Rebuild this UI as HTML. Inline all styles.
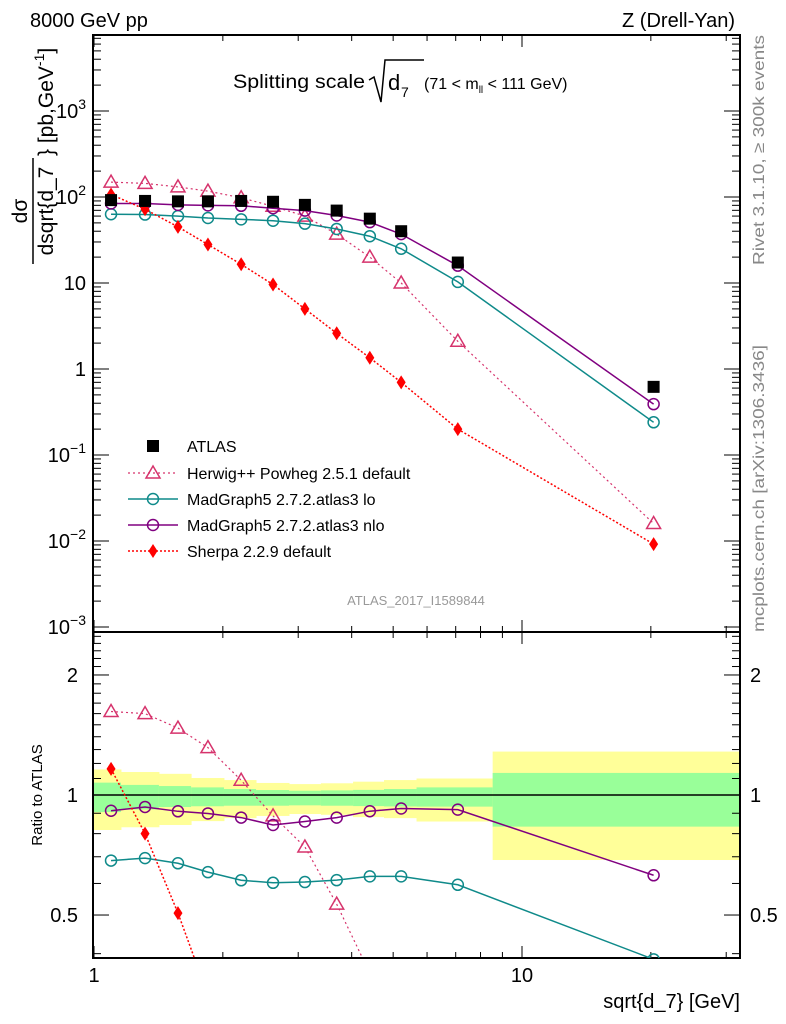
<!DOCTYPE html>
<html><head><meta charset="utf-8"><style>
html,body{margin:0;background:#fff;overflow:hidden;width:786px;height:1024px;}
svg{display:block;font-family:"Liberation Sans",sans-serif;overflow:hidden;}
</style></head><body>
<svg id="c" width="786" height="1024" viewBox="0 0 786 1024"></svg>
<script>
const xs=[1.096,1.316,1.571,1.846,2.207,2.62,3.11,3.69,4.41,5.22,7.08,20.3];
const atlas=[92,90,89,89,90,88,81,69.5,56,40,17.3,0.62];
const herwig=[149,144,131,117,98,78,60,37,20,10,2.1,0.016];
const mglo=[63,62.5,60,57,55,53,49,42.5,35,25,10.3,0.24];
const mgnlo=[84,84,81,80,79,74,69.5,61,51,37,15.9,0.39];
const sherpa=[107,72,45,28,16.5,9.6,5.0,2.6,1.35,0.7,0.2,0.0092];
const binEdges=[1.0,1.156,1.418,1.686,2.012,2.391,2.855,3.39,4.03,4.76,5.67,8.54,32.3];
const yelHi=[1.159,1.142,1.13,1.103,1.09,1.072,1.065,1.07,1.08,1.09,1.1,1.285];
const yelLo=[0.817,0.83,0.841,0.86,0.875,0.886,0.896,0.892,0.88,0.875,0.858,0.687];
const grnHi=[1.074,1.06,1.053,1.045,1.035,1.029,1.025,1.027,1.03,1.035,1.045,1.136];
const grnLo=[0.906,0.92,0.933,0.937,0.94,0.94,0.942,0.94,0.938,0.936,0.935,0.833];
const yTicks=["10^-3","10^-2","10^-1","1","10","10^2","10^3"];
const yTickVals=[1e-3,1e-2,1e-1,1,10,100,1000];
const rTickVals=[0.5,1,2];

const L=93,R=740,T=35,MB=632,RB=958;
const X=v=>94+428*Math.log10(v);
const Y=v=>369-86*Math.log10(v);
const RY=v=>795-398.7*Math.log10(v);
const svg=document.getElementById('c');
const NS='http://www.w3.org/2000/svg';
function el(tag,at,parent){const e=document.createElementNS(NS,tag);for(const k in at)e.setAttribute(k,at[k]);(parent||svg).appendChild(e);return e;}
function txt(s,at,parent){const e=el('text',at,parent);e.textContent=s;return e;}

const defs=el('defs',{});
const c1=el('clipPath',{id:'cm'},defs);el('rect',{x:L,y:T,width:R-L,height:MB-T},c1);
const c2=el('clipPath',{id:'cr'},defs);el('rect',{x:L,y:MB,width:R-L,height:RB-MB},c2);

const bands=el('g',{'clip-path':'url(#cr)'});


for(let i=0;i<yelHi.length;i++){
  const x0=X(binEdges[i]),x1=X(binEdges[i+1]);
  const r1=el('rect',{x:x0,y:RY(yelHi[i]),width:x1-x0+0.5,height:RY(yelLo[i])-RY(yelHi[i]),fill:'#ffff99'},bands);
  
  
  const r2=el('rect',{x:x0,y:RY(grnHi[i]),width:x1-x0+0.5,height:RY(grnLo[i])-RY(grnHi[i]),fill:'#99ff99'},bands);
  
  
}
el('line',{x1:L,x2:R,y1:RY(1),y2:RY(1),stroke:'#000','stroke-width':1.5});

el('rect',{x:L,y:T,width:R-L,height:MB-T,fill:'none',stroke:'#000','stroke-width':2});
el('rect',{x:L,y:MB,width:R-L,height:RB-MB,fill:'none',stroke:'#000','stroke-width':2});

function xTicks(y0,y1){
  for(let d=0;d<2;d++)for(let m=1;m<10;m++){const v=m*Math.pow(10,d);if(v>32.3)continue;
    const x=X(v);const len=m==1?12:6;
    el('line',{x1:x,x2:x,y1:y1,y2:y1-len,stroke:'#000','stroke-width':1});
    el('line',{x1:x,x2:x,y1:y0,y2:y0+len,stroke:'#000','stroke-width':1});}
}
xTicks(T,MB);xTicks(MB,RB);
txt('1',{x:X(1),y:982,'font-size':20,'text-anchor':'middle'});
txt('10',{x:X(10),y:982,'font-size':20,'text-anchor':'middle'});
txt('sqrt{d_7} [GeV]',{x:740,y:1008,'font-size':20,'text-anchor':'end'});

for(let d=-3;d<=3;d++)for(let m=1;m<10;m++){const v=m*Math.pow(10,d);const y=Y(v);if(y<T||y>MB)continue;
  const len=m==1?16:8;el('line',{x1:L,x2:L+len,y1:y,y2:y,stroke:'#000'});el('line',{x1:R,x2:R-len,y1:y,y2:y,stroke:'#000'});}
const yl=el('g',{});
yTicks.forEach((s,i)=>{const y=Y(yTickVals[i])+7;
  if(s.indexOf('^')>0){const p=s.split('^');const t=txt('',{x:86,y:y,'font-size':20,'text-anchor':'end'},yl);
    const a=el('tspan',{},t);a.textContent=p[0];const b=el('tspan',{dy:-9,'font-size':14},t);b.textContent=p[1].replace('-','−');}
  else txt(s,{x:86,y:y,'font-size':20,'text-anchor':'end'},yl);});
for(let v=0.4;v<=2.5001;v+=0.1){const y=RY(v);if(y<MB||y>RB)continue;const maj=[0.5,1,2].some(q=>Math.abs(q-v)<1e-6);
  const len=maj?16:8;el('line',{x1:L,x2:L+len,y1:y,y2:y,stroke:'#000'});el('line',{x1:R,x2:R-len,y1:y,y2:y,stroke:'#000'});}
rTickVals.forEach(v=>{txt(String(v),{x:78,y:RY(v)+7,'font-size':20,'text-anchor':'end'});txt(String(v),{x:750,y:RY(v)+7,'font-size':20});});

txt('8000 GeV pp',{x:30,y:27,'font-size':20});
txt('Z (Drell-Yan)',{x:735,y:27,'font-size':20,'text-anchor':'end'});
const tg=el('g',{});
txt('Splitting scale',{x:233,y:88,'font-size':19,textLength:132,lengthAdjust:'spacingAndGlyphs'},tg);
el('polyline',{points:'369,80 374,77 381,102 385,60 424,60',fill:'none',stroke:'#000','stroke-width':1.5},tg);
txt('d',{x:388,y:90,'font-size':22},tg);
txt('7',{x:401,y:97,'font-size':14},tg);
const pt=txt('',{x:424,y:89,'font-size':16},tg);
const p1=el('tspan',{},pt);p1.textContent='(71 < m';
const p2=el('tspan',{dy:4,'font-size':10},pt);p2.textContent='ll';
const p3=el('tspan',{dy:-4},pt);p3.textContent=' < 111 GeV)';

txt('ATLAS_2017_I1589844',{x:416,y:605,'font-size':13,fill:'#999','text-anchor':'middle'});
txt('Rivet 3.1.10, ≥ 300k events',{x:0,y:0,'font-size':16,fill:'#888',textLength:230,lengthAdjust:'spacingAndGlyphs',transform:'translate(764,265) rotate(-90)'});
txt('mcplots.cern.ch [arXiv:1306.3436]',{x:0,y:0,'font-size':16,fill:'#888',textLength:287,lengthAdjust:'spacingAndGlyphs',transform:'translate(764,632) rotate(-90)'});
txt('Ratio to ATLAS',{x:0,y:0,'font-size':15,'text-anchor':'middle',transform:'translate(42,795) rotate(-90)'});
const yt=el('g',{transform:'translate(33,211) rotate(-90)'});
txt('dσ',{x:0,y:-6,'font-size':21,'text-anchor':'middle'},yt);
el('line',{x1:-53,x2:53,y1:0,y2:0,stroke:'#000','stroke-width':1.5},yt);
txt('dsqrt{d_7',{x:0,y:20,'font-size':21,'text-anchor':'middle'},yt);
const ut=txt('',{x:55,y:20,'font-size':21},yt);const u1=el('tspan',{},ut);u1.textContent='} [pb,GeV';const u2=el('tspan',{dy:-9,'font-size':14},ut);u2.textContent='-1';const u3=el('tspan',{dy:9},ut);u3.textContent=']';

function marker(g,type,x,y,col){
  if(type==='sq')el('rect',{x:x-6,y:y-6,width:12,height:12,fill:'#000'},g);
  else if(type==='tri')el('polygon',{points:`${x},${y-7} ${x-7},${y+5} ${x+7},${y+5}`,fill:'none',stroke:col,'stroke-width':1.5},g);
  else if(type==='circ')el('circle',{cx:x,cy:y,r:5.5,fill:'none',stroke:col,'stroke-width':1.5},g);
  else if(type==='dia')el('polygon',{points:`${x},${y-7} ${x-4.5},${y} ${x},${y+7} ${x+4.5},${y}`,fill:col},g);
}
const series=[
 {name:'herwig',vals:herwig,col:'#d6336c',type:'tri',dash:'2,3',w:1.2,label:'Herwig++ Powheg 2.5.1 default'},
 {name:'madgraph-lo',vals:mglo,col:'#0f8a8a',type:'circ',dash:null,w:1.5,label:'MadGraph5 2.7.2.atlas3 lo'},
 {name:'madgraph-nlo',vals:mgnlo,col:'#800080',type:'circ',dash:null,w:1.5,label:'MadGraph5 2.7.2.atlas3 nlo'},
 {name:'sherpa',vals:sherpa,col:'#ff0000',type:'dia',dash:'2,2',w:1.5,label:'Sherpa 2.2.9 default'}];
series.forEach(s=>{
  const gm=el('g',{'clip-path':'url(#cm)'});
  
  
  const pts=xs.map((x,i)=>X(x)+','+Y(s.vals[i])).join(' ');
  const a={points:pts,fill:'none',stroke:s.col,'stroke-width':s.w};if(s.dash)a['stroke-dasharray']=s.dash;
  el('polyline',a,gm);
  xs.forEach((x,i)=>marker(gm,s.type,X(x),Y(s.vals[i]),s.col));
  const gr=el('g',{'clip-path':'url(#cr)'});
  
  
  const rp=xs.map((x,i)=>X(x)+','+RY(s.vals[i]/atlas[i])).join(' ');
  const b={points:rp,fill:'none',stroke:s.col,'stroke-width':s.w};if(s.dash)b['stroke-dasharray']=s.dash;
  el('polyline',b,gr);
  xs.forEach((x,i)=>marker(gr,s.type,X(x),RY(s.vals[i]/atlas[i]),s.col));
});
const ga=el('g',{'clip-path':'url(#cm)'});


xs.forEach((x,i)=>marker(ga,'sq',X(x),Y(atlas[i]),'#000'));

const lg=el('g',{});
marker(lg,'sq',153,446,'#000');txt('ATLAS',{x:187,y:452,'font-size':16},lg);
series.forEach((s,i)=>{const y=473+i*26;
  const a={x1:128,x2:178,y1:y,y2:y,stroke:s.col,'stroke-width':s.w};if(s.dash)a['stroke-dasharray']=s.dash;
  el('line',a,lg);marker(lg,s.type,153,y,s.col);txt(s.label,{x:187,y:y+6,'font-size':16},lg);});
</script>
</body></html>
